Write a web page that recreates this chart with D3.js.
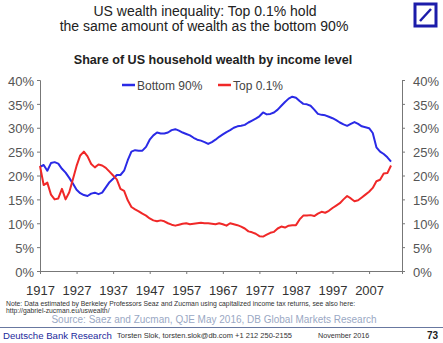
<!DOCTYPE html>
<html>
<head>
<meta charset="utf-8">
<script src="https://cdn.jsdelivr.net/npm/d3@7"></script>
<style>
  body { margin: 0; background: #fff; }
  svg { display: block; font-family: Arial, "Liberation Sans", sans-serif; }
</style>
</head>
<body>
<script>

//chart size
var w = 443, h = 343;

//data, one value per year from 1917
var startYear = 1917;
var bottom90 = [21.8, 22.2, 21.0, 22.6, 22.8, 22.5, 21.4, 20.6, 19.5, 18.3,
    17.0, 16.3, 15.9, 15.7, 16.2, 16.4, 16.1, 16.4, 17.5, 18.6,
    19.3, 20.1, 20.1, 21.0, 23.2, 25.0, 25.3, 25.2, 25.2, 26.0,
    27.5, 28.4, 29.0, 28.8, 28.8, 29.0, 29.5, 29.7, 29.4, 29.0,
    28.7, 28.4, 27.9, 27.5, 27.3, 27.0, 26.6, 27.0, 27.5, 28.1,
    28.6, 29.1, 29.5, 30.0, 30.3, 30.4, 30.6, 31.1, 31.5, 31.9,
    32.4, 33.2, 32.8, 32.9, 33.2, 33.8, 34.6, 35.4, 36.1, 36.5,
    36.3, 35.6, 35.0, 34.9, 34.6, 33.8, 32.9, 32.7, 32.6, 32.3,
    32.0, 31.6, 31.1, 30.7, 30.4, 30.8, 31.2, 30.8, 30.3, 30.1,
    29.9, 28.9, 25.9, 25.0, 24.5, 23.8, 22.9];
var top01 = [22.0, 18.0, 18.5, 16.0, 15.0, 15.2, 17.2, 15.0, 16.5, 19.2,
    22.0, 24.2, 25.0, 24.0, 22.4, 21.7, 22.3, 22.1, 21.6, 20.8,
    20.0, 19.2, 17.2, 16.8, 14.8, 13.4, 12.9, 12.5, 12.0, 11.6,
    11.0, 10.6, 10.4, 10.6, 10.4, 10.0, 9.7, 9.5, 9.7, 9.9,
    10.0, 9.8, 9.9, 10.0, 10.1, 10.0, 10.0, 9.9, 9.8, 10.0,
    9.8, 9.5, 10.0, 9.8, 9.6, 9.3, 8.9, 8.3, 8.1, 7.8,
    7.3, 7.2, 7.6, 8.0, 8.2, 8.9, 9.3, 9.1, 9.5, 9.6,
    9.6, 10.8, 11.6, 11.6, 11.7, 11.5, 12.0, 12.4, 12.2, 12.6,
    13.2, 13.7, 14.2, 15.0, 15.7, 15.2, 14.6, 14.8, 15.4, 16.0,
    16.6, 17.4, 18.8, 19.1, 20.4, 20.5, 22.1];
var xTicks = [1917, 1927, 1937, 1947, 1957, 1967, 1977, 1987, 1997, 2007];
var yTicks = [0, 5, 10, 15, 20, 25, 30, 35, 40];
var seriesNames = ["Bottom 90%", "Top 0.1%"];
var seriesColors = ["#2a2ae6", "#f02828"];

window.onload = function(){

    var svg = d3.select("body")
        .append("svg")
        .attr("width", w)
        .attr("height", h);

    //titles
    svg.append("text")
        .attr("x", 205).attr("y", 16)
        .attr("text-anchor", "middle")
        .style("font-size", "14px").style("fill", "#222")
        .text("US wealth inequality: Top 0.1% hold");
    svg.append("text")
        .attr("x", 204).attr("y", 31)
        .attr("text-anchor", "middle")
        .style("font-size", "14px").style("fill", "#222")
        .text("the same amount of wealth as the bottom 90%");

    //deutsche bank logo
    var logo = svg.append("g").attr("class", "logo");
    logo.append("rect")
        .attr("x", 415).attr("y", 4).attr("width", 21).attr("height", 22)
        .style("fill", "#fff").style("stroke", "#1c1caa").style("stroke-width", 3);
    logo.append("line")
        .attr("x1", 420).attr("y1", 21).attr("x2", 431).attr("y2", 9)
        .style("stroke", "#1c1caa").style("stroke-width", 2.5);

    svg.append("text")
        .attr("x", 213).attr("y", 64)
        .attr("text-anchor", "middle")
        .style("font-size", "12.6px").style("font-weight", "bold").style("fill", "#222")
        .text("Share of US household wealth by income level");

    //scales
    var x = d3.scaleLinear().domain([1917, 2016]).range([40, 402]);
    var y = d3.scaleLinear().domain([0, 40]).range([271, 80]);

    var leftAxis = d3.axisLeft(y).tickValues(yTicks).tickSize(3).tickPadding(3)
        .tickFormat(function(d){ return d + "%"; });
    var rightAxis = d3.axisRight(y).tickValues(yTicks).tickSize(3).tickPadding(8)
        .tickFormat(function(d){ return d + "%"; });
    var bottomAxis = d3.axisBottom(x).tickValues(xTicks).tickSize(3).tickPadding(12)
        .tickFormat(d3.format("d"));

    var gl = svg.append("g").attr("transform", "translate(40,0)").call(leftAxis);
    var gr = svg.append("g").attr("transform", "translate(402,0)").call(rightAxis);
    var gb = svg.append("g").attr("transform", "translate(0,271)").call(bottomAxis);

    [gl, gr, gb].forEach(function(g){
        g.select(".domain").style("stroke", "#777");
        g.selectAll(".tick line").style("stroke", "#777");
        g.selectAll("text").style("font-family", "Arial, 'Liberation Sans', sans-serif")
            .style("font-size", "13px").style("fill", "#555");
    });
    gb.selectAll("text").style("fill", "#333");
    gl.selectAll("text").attr("dy", "0.4em");
    gr.selectAll("text").attr("dy", "0.4em");

    //lines
    var line = d3.line()
        .x(function(d, i){ return x(startYear + i); })
        .y(function(d){ return y(d); });

    [bottom90, top01].forEach(function(series, i){
        svg.append("path")
            .datum(series)
            .attr("d", line)
            .style("fill", "none")
            .style("stroke", seriesColors[i])
            .style("stroke-width", 2)
            .style("stroke-linejoin", "round");
    });

    //legend
    var legendX = [122, 218];
    seriesNames.forEach(function(name, i){
        svg.append("line")
            .attr("x1", legendX[i]).attr("x2", legendX[i] + 13)
            .attr("y1", 85).attr("y2", 85)
            .style("stroke", seriesColors[i]).style("stroke-width", 2.5);
        svg.append("text")
            .attr("x", legendX[i] + 15).attr("y", 89.5)
            .style("font-size", "12px").style("fill", "#444")
            .text(name);
    });

    //notes and footer
    svg.append("text")
        .attr("x", 6).attr("y", 305.5)
        .style("font-size", "6.8px").style("fill", "#333")
        .text("Note: Data estimated by Berkeley Professors Seaz and Zucman using capitalized income tax returns, see also here:");
    svg.append("text")
        .attr("x", 6).attr("y", 313)
        .style("font-size", "6.8px").style("fill", "#333")
        .text("http://gabriel-zucman.eu/uswealth/");
    svg.append("text")
        .attr("x", 214).attr("y", 323)
        .attr("text-anchor", "middle")
        .style("font-size", "10px").style("fill", "#9aa8c4")
        .text("Source: Saez and Zucman, QJE May 2016, DB Global Markets Research");

    svg.append("line")
        .attr("x1", 0).attr("x2", w).attr("y1", 327.5).attr("y2", 327.5)
        .style("stroke", "#6878a0").style("stroke-width", 1);

    svg.append("text")
        .attr("x", 3).attr("y", 339)
        .style("font-size", "9.6px").style("fill", "#1c2a9c")
        .text("Deutsche Bank Research");
    svg.append("text")
        .attr("x", 117).attr("y", 338)
        .style("font-size", "7.5px").style("fill", "#333")
        .text("Torsten Slok, torsten.slok@db.com  +1 212 250-2155");
    svg.append("text")
        .attr("x", 318).attr("y", 338)
        .style("font-size", "7.2px").style("fill", "#333")
        .text("November 2016");
    svg.append("text")
        .attr("x", 438).attr("y", 339)
        .attr("text-anchor", "end")
        .style("font-size", "10px").style("font-weight", "bold").style("fill", "#222")
        .text("73");
};

</script>
</body>
</html>
